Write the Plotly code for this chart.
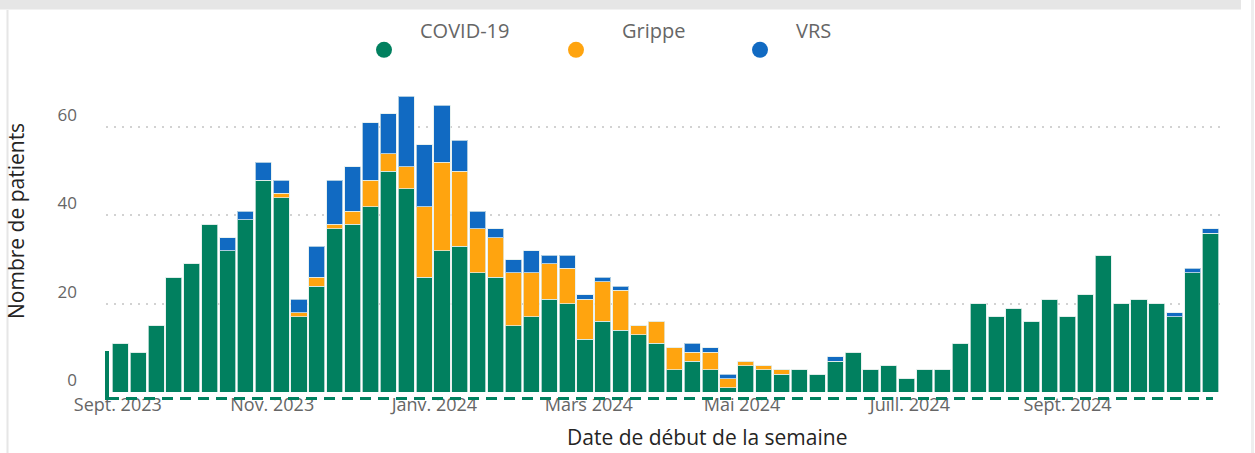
import plotly.graph_objects as go
import pandas as pd

# ---------------- data ----------------
week_start = pd.date_range("2023-09-03", periods=62, freq="7D")

covid = [11, 9, 15, 26, 29, 38, 32, 39, 48, 44, 17, 24, 37, 38, 42, 50, 46, 26, 32, 33,
         27, 26, 15, 17, 21, 20, 12, 16, 14, 13, 11, 5, 7, 5, 1, 6, 5, 4, 5, 4,
         7, 9, 5, 6, 3, 5, 5, 11, 20, 17, 19, 16, 21, 17, 22, 31, 20, 21, 20, 17,
         27, 36]
grippe = [0, 0, 0, 0, 0, 0, 0, 0, 0, 1, 1, 2, 1, 3, 6, 4, 5, 16, 20, 17,
          10, 9, 12, 10, 8, 8, 9, 9, 9, 2, 5, 5, 2, 4, 2, 1, 1, 1, 0, 0,
          0, 0, 0, 0, 0, 0, 0, 0, 0, 0, 0, 0, 0, 0, 0, 0, 0, 0, 0, 0,
          0, 0]
vrs = [0, 0, 0, 0, 0, 0, 3, 2, 4, 3, 3, 7, 10, 10, 13, 9, 16, 14, 13, 7,
       4, 2, 3, 5, 2, 3, 1, 1, 1, 0, 0, 0, 2, 1, 1, 0, 0, 0, 0, 0,
       1, 0, 0, 0, 0, 0, 0, 0, 0, 0, 0, 0, 0, 0, 0, 0, 0, 0, 0, 1,
       1, 1]

series_names = ["COVID-19", "Grippe", "VRS"]
series_colors = ["#01805F", "#FFA40F", "#116AC2"]

tick_dates = ["2023-09-02", "2023-11-01 12:00", "2024-01-04", "2024-03-04 12:00",
              "2024-05-03 12:00", "2024-07-08 06:00", "2024-09-08"]
tick_labels = ["Sept. 2023", "Nov. 2023", "Janv. 2024", "Mars 2024",
               "Mai 2024", "Juill. 2024", "Sept. 2024"]
y_ticks = [0, 20, 40, 60]

# ---------------- layout geometry ----------------
FW, FH = 1255, 453
ML, MR, MT, MB = 106, 33, 83, 61
PW, PH = FW - ML - MR, FH - MT - MB
BOTTOM = FH - MB


def xp(px):
    return (px - ML) / PW


def yp(py):
    return (BOTTOM - py) / PH


FONT = "Open Sans"
GRAY = "#666666"
DARK = "#252423"

fig = go.Figure()
for vals, name, col in zip([covid, grippe, vrs], series_names, series_colors):
    fig.add_trace(go.Bar(
        x=week_start, y=vals, name=name, showlegend=False,
        marker=dict(color=col, line=dict(color="rgba(225,238,235,0.75)", width=1)),
        hovertemplate="%{x|%Y-%m-%d}<br>" + name + ": %{y}<extra></extra>",
    ))

legend_ids = ["legend", "legend2", "legend3"]
for name, col, lid in zip(series_names, series_colors, legend_ids):
    fig.add_trace(go.Scatter(
        x=[None], y=[None], mode="markers", name=f"<span style='font-size:20px'>{name}</span><br> ",
        marker=dict(color=col, size=16, symbol="circle"), legend=lid, showlegend=True,
        hoverinfo="skip",
    ))

legend_marker_px = [384, 576, 760]
legend_text_gap = [36, 46, 36]
leg_common = dict(orientation="h", xanchor="left", yanchor="middle", valign="bottom",
                  bgcolor="rgba(0,0,0,0)",
                  font=dict(family=FONT, size=13, color=GRAY))
legends = {}
for lid, mpx, gap in zip(legend_ids, legend_marker_px, legend_text_gap):
    legends[lid] = dict(leg_common, x=xp(mpx - gap), y=yp(41.5), itemwidth=2 * gap - 10)

shapes = [
    # top grey band
    dict(type="rect", xref="paper", yref="paper", x0=xp(0), x1=xp(1241), y0=yp(0), y1=yp(9.5),
         fillcolor="#E6E6E6", line=dict(width=0), layer="above"),
    # left/right frame lines
    dict(type="line", xref="paper", yref="paper", x0=xp(7.5), x1=xp(7.5), y0=yp(10), y1=yp(FH),
         line=dict(color="#E6E6E6", width=2)),
    dict(type="line", xref="paper", yref="paper", x0=xp(1252.5), x1=xp(1252.5), y0=yp(0), y1=yp(FH),
         line=dict(color="#EEEEEE", width=3)),
    # green axis decorations
    dict(type="line", xref="paper", yref="paper", x0=xp(107), x1=xp(107), y0=yp(351), y1=yp(400),
         line=dict(color=series_colors[0], width=4), layer="above"),
    dict(type="line", xref="paper", yref="paper", x0=xp(108), x1=xp(1213), y0=yp(398.5), y1=yp(398.5),
         line=dict(color=series_colors[0], width=3, dash="11px,7px"), layer="above"),
]

annotations = [
    dict(text="Nombre de patients", x=xp(16), y=yp(221), xref="paper", yref="paper",
         textangle=-90, showarrow=False, xanchor="center", yanchor="middle",
         font=dict(family=FONT, size=21, color=DARK)),
    dict(text="Date de début de la semaine", x=xp(707), y=yp(437), xref="paper", yref="paper",
         showarrow=False, xanchor="center", yanchor="middle",
         font=dict(family=FONT, size=21, color=DARK)),
]

fig.update_layout(
    width=FW, height=FH,
    margin=dict(l=ML, r=MR, t=MT, b=MB, autoexpand=False),
    paper_bgcolor="white", plot_bgcolor="white",
    barmode="stack", bargap=0.1,
    font=dict(family=FONT, color=GRAY),
    shapes=shapes, annotations=annotations,
    **legends,
)
fig.update_xaxes(
    type="date", range=["2023-08-28 09:30", "2024-11-07 12:00"],
    tickmode="array", tickvals=tick_dates, ticktext=tick_labels,
    showgrid=False, showline=False, zeroline=False, ticks="",
    tickfont=dict(family=FONT, size=18, color=GRAY),
)
fig.update_yaxes(
    range=[0, 70], tickmode="array", tickvals=y_ticks,
    showgrid=True, gridcolor="#D2D2D2", gridwidth=1.5, griddash="2px,6px",
    zeroline=False, showline=False, ticks="",
    ticklabelstandoff=28, ticklabelshift=-12,
    tickfont=dict(family=FONT, size=17, color=GRAY),
)

fig.write_html("out.html", config={"displayModeBar": False},
               post_script="document.body.style.margin='0px';")
